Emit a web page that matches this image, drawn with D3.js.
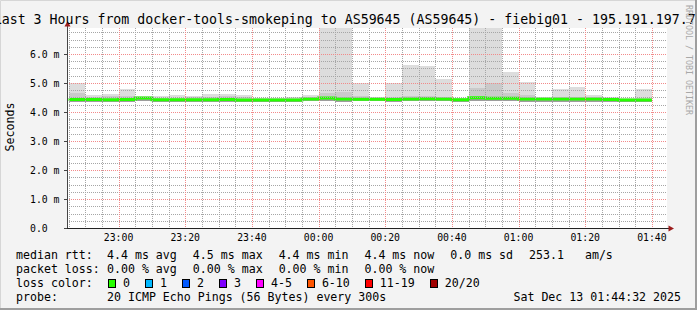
<!DOCTYPE html>
<html>
<head>
<meta charset="utf-8">
<script src="https://cdn.jsdelivr.net/npm/d3@7"></script>
<style>
body { margin: 0; background: #f3f3f3; }
svg { display: block; font-family: "DejaVu Sans Mono", monospace; }
text { white-space: pre; }
</style>
</head>
<body>
<svg id="chart"></svg>
<script>
// 5分ごとのステップ (ms)
var stepStart = new Date(2025, 11, 12, 22, 45, 0);
var rttMedian = [4.43, 4.43, 4.42, 4.43, 4.48, 4.42, 4.42, 4.42, 4.42, 4.43, 4.41, 4.41,
                 4.41, 4.41, 4.45, 4.48, 4.45, 4.44, 4.44, 4.43, 4.45, 4.46, 4.45, 4.42,
                 4.49, 4.47, 4.47, 4.45, 4.45, 4.45, 4.45, 4.45, 4.43, 4.41, 4.41];
var rttMax = [4.99, 4.60, 4.61, 4.79, 4.55, 4.55, 4.58, 4.56, 4.61, 4.62, 4.58, 4.50,
              4.50, 4.52, 4.58, 7.50, 7.50, 5.01, 4.53, 4.99, 5.62, 5.59, 5.14, 4.50,
              7.50, 7.50, 5.39, 5.03, 4.50, 4.79, 4.86, 4.58, 4.53, 4.48, 4.78];
var rttHi = [4.64, 4.52, 4.55, 4.56, 4.52, 4.50, 4.50, 4.52, 4.52, 4.55, 4.52, 4.47,
             4.47, 4.47, 4.52, 4.67, 4.70, 4.55, 4.48, 4.52, 4.55, 4.55, 4.52, 4.47,
             4.82, 5.01, 4.64, 4.58, 4.47, 4.50, 4.50, 4.50, 4.50, 4.45, 4.50];
var rttLo = [4.35, 4.35, 4.35, 4.36, 4.38, 4.36, 4.36, 4.36, 4.36, 4.36, 4.35, 4.35,
             4.35, 4.35, 4.37, 4.38, 4.36, 4.37, 4.37, 4.36, 4.37, 4.38, 4.37, 4.35,
             4.39, 4.37, 4.37, 4.36, 4.36, 4.36, 4.36, 4.36, 4.35, 4.34, 4.34];
var yTicks = [0, 1, 2, 3, 4, 5, 6];
var lossLabels = ["0", "1", "2", "3", "4-5", "6-10", "11-19", "20/20"];
var lossColors = ["#26ff00", "#00b8ff", "#0059ff", "#7e00ff", "#ff00ff", "#ff5500", "#ff0000", "#a10000"];
var rttLegend = ["4.4 ms avg", "4.5 ms max", "4.4 ms min", "4.4 ms now", "0.0 ms sd", "253.1   am/s"];
var lossLegend = ["0.00 % avg", "0.00 % max", "0.00 % min", "0.00 % now"];
var probeText = "20 ICMP Echo Pings (56 Bytes) every 300s";
var stampText = "Sat Dec 13 01:44:32 2025";
var titleText = "Last 3 Hours from docker-tools-smokeping to AS59645 (AS59645) - fiebig01 - 195.191.197.7";

var drawSmokeChart = function(){
    // 基本設定
    var width = 697;
    var height = 310;
    var left = 67, right = 667, top = 28, bottom = 228;
    var svg = d3.select("#chart")
        .attr("width", width)
        .attr("height", height);

    var tStart = new Date(2025, 11, 12, 22, 44, 32);
    var tEnd = new Date(2025, 11, 13, 1, 44, 32);
    var x = d3.scaleTime().domain([tStart, tEnd]).range([left, right]);
    var y = d3.scaleLinear().domain([0, 200 / 29]).range([bottom, top]);

    var steps = rttMedian.map(function(m, i){
        var t0 = d3.timeMinute.offset(stepStart, i * 5);
        return { t0: t0, t1: d3.timeMinute.offset(t0, 5), med: m, max: rttMax[i], hi: rttHi[i], lo: rttLo[i] };
    });

    // 背景と枠
    svg.append("rect").attr("width", width).attr("height", height).attr("fill", "#f3f3f3");
    svg.append("path").attr("d", "M0.5," + height + "V0.5H" + width)
        .attr("fill", "none").attr("stroke", "#d6d6d6");
    svg.append("path").attr("d", "M" + (width - 1) + ",0V" + (height - 1) + "H0")
        .attr("fill", "none").attr("stroke", "#9e9e9e").attr("stroke-width", 2);
    svg.append("rect").attr("x", left).attr("y", top)
        .attr("width", right - left).attr("height", bottom - top).attr("fill", "#ffffff");

    svg.append("clipPath").attr("id", "plotclip")
        .append("rect").attr("x", left).attr("y", top)
        .attr("width", right - left).attr("height", bottom - top);
    var plot = svg.append("g").attr("clip-path", "url(#plotclip)");

    // 煙 (smoke)
    var bands = [
        { hi: function(d){ return d.max; }, color: "#dddddd" },
        { hi: function(d){ return d.hi; }, color: "#cacaca" },
        { hi: function(d){ return d.med; }, color: "#9d9d9d" }
    ];
    bands.forEach(function(b){
        plot.selectAll(null)
            .data(steps)
            .enter()
            .append("rect")
            .attr("x", function(d){ return x(d.t0); })
            .attr("width", function(d){ return x(d.t1) - x(d.t0); })
            .attr("y", function(d){ return y(b.hi(d)); })
            .attr("height", function(d){ return y(d.lo) - y(b.hi(d)); })
            .attr("fill", b.color)
            .attr("shape-rendering", "crispEdges");
    });

    // グリッド
    var grid = svg.append("g").attr("shape-rendering", "crispEdges");
    var minorY = d3.range(0.25, 6.9, 0.25).filter(function(v){ return Math.abs(v - Math.round(v)) > 0.01; });
    grid.selectAll(".ymin").data(minorY).enter().append("line")
        .attr("x1", left).attr("x2", right)
        .attr("y1", function(d){ return Math.round(y(d)) + 0.5; })
        .attr("y2", function(d){ return Math.round(y(d)) + 0.5; })
        .attr("stroke", "#a6a6a6").attr("stroke-dasharray", "1,1");
    var minorX = d3.timeMinute.every(5).range(tStart, tEnd)
        .filter(function(t){ return t.getMinutes() % 20 !== 0; });
    grid.selectAll(".xmin").data(minorX).enter().append("line")
        .attr("x1", function(d){ return Math.round(x(d)) + 0.5; })
        .attr("x2", function(d){ return Math.round(x(d)) + 0.5; })
        .attr("y1", top).attr("y2", bottom)
        .attr("stroke", "#a6a6a6").attr("stroke-dasharray", "1,1");
    grid.selectAll(".ymaj").data(yTicks.slice(1)).enter().append("line")
        .attr("x1", left).attr("x2", right)
        .attr("y1", function(d){ return Math.round(y(d)) + 0.5; })
        .attr("y2", function(d){ return Math.round(y(d)) + 0.5; })
        .attr("stroke", "#f28a8a").attr("stroke-dasharray", "1,1");
    var majorX = d3.timeMinute.every(20).range(tStart, tEnd);
    grid.selectAll(".xmaj").data(majorX).enter().append("line")
        .attr("x1", function(d){ return Math.round(x(d)) + 0.5; })
        .attr("x2", function(d){ return Math.round(x(d)) + 0.5; })
        .attr("y1", top).attr("y2", bottom)
        .attr("stroke", "#f28a8a").attr("stroke-dasharray", "1,1");

    // 中央値ライン
    var pts = steps.map(function(d){ return [d.t0, d.med]; });
    pts.push([steps[steps.length - 1].t1, steps[steps.length - 1].med]);
    var line = d3.line()
        .x(function(d){ return x(d[0]); })
        .y(function(d){ return y(d[1]); })
        .curve(d3.curveStepAfter);
    plot.append("path")
        .attr("d", line(pts))
        .attr("fill", "none")
        .attr("stroke", lossColors[0])
        .attr("stroke-width", 3);

    // 軸
    var axisG = svg.append("g").attr("shape-rendering", "crispEdges");
    axisG.append("line").attr("x1", left + 0.5).attr("x2", left + 0.5)
        .attr("y1", bottom).attr("y2", top - 4).attr("stroke", "#444");
    axisG.append("line").attr("x1", left - 3).attr("x2", right + 4)
        .attr("y1", bottom + 0.5).attr("y2", bottom + 0.5).attr("stroke", "#222");
    axisG.selectAll(".ytick").data(yTicks).enter().append("line")
        .attr("x1", left - 3).attr("x2", left)
        .attr("y1", function(d){ return Math.round(y(d)) + 0.5; })
        .attr("y2", function(d){ return Math.round(y(d)) + 0.5; })
        .attr("stroke", "#444");
    svg.append("path").attr("d", "M67.5,21L64.5,26.5L70.5,26.5Z").attr("fill", "#9b1c1c");
    svg.append("path").attr("d", "M674,228.5L668.5,225.5L668.5,231.5Z").attr("fill", "#9b1c1c");

    svg.selectAll(".ylab").data(yTicks).enter().append("text")
        .attr("x", 30)
        .attr("y", function(d){ return y(d) + 3.5; })
        .attr("font-size", "9.8px")
        .attr("fill", "#000")
        .text(function(d){ return d === 0 ? "0.0" : d3.format(".1f")(d) + " m"; });
    svg.selectAll(".xlab").data(majorX).enter().append("text")
        .attr("x", function(d){ return x(d); })
        .attr("y", 241)
        .attr("text-anchor", "middle")
        .attr("font-size", "9.8px")
        .attr("fill", "#000")
        .text(d3.timeFormat("%H:%M"));

    svg.append("text")
        .attr("transform", "translate(14,127) rotate(-90)")
        .attr("text-anchor", "middle")
        .attr("font-size", "11.6px")
        .text("Seconds");

    // タイトル
    svg.append("text")
        .attr("x", -6.3).attr("y", 24)
        .attr("font-size", "13.25px")
        .text(titleText);

    // ウォーターマーク
    svg.append("text")
        .attr("transform", "translate(686,5) rotate(90)")
        .attr("font-size", "8.3px")
        .attr("fill", "#a8a8a8")
        .text("RRDTOOL / TOBI OETIKER");

    // 凡例
    var legend = svg.append("g").attr("font-size", "11.6px").attr("fill", "#000");
    var rowY = [258.5, 272.5, 286.5, 300.5];
    function legendRow(label, items, yy){
        legend.append("text").attr("x", 16).attr("y", yy).text(label);
        var cx = 107;
        items.forEach(function(s){
            var t = legend.append("text").attr("x", cx).attr("y", yy).text(s);
            cx += t.node().getComputedTextLength() + 16;
        });
    }
    legendRow("median rtt:", rttLegend, rowY[0]);
    legendRow("packet loss:", lossLegend, rowY[1]);

    legend.append("text").attr("x", 16).attr("y", rowY[2]).text("loss color:");
    var bx = 108;
    lossLabels.forEach(function(l, i){
        legend.append("rect")
            .attr("x", bx + 0.5).attr("y", rowY[2] - 7.5)
            .attr("width", 7).attr("height", 8)
            .attr("fill", lossColors[i])
            .attr("stroke", "#000")
            .attr("shape-rendering", "crispEdges");
        var t = legend.append("text").attr("x", bx + 15).attr("y", rowY[2]).text(l);
        bx = bx + 15 + t.node().getComputedTextLength() + 15;
    });

    legend.append("text").attr("x", 16).attr("y", rowY[3]).text("probe:");
    legend.append("text").attr("x", 107).attr("y", rowY[3]).text(probeText);
    legend.append("text").attr("x", 681).attr("y", rowY[3])
        .attr("text-anchor", "end").text(stampText);
}

var main = function(){
    drawSmokeChart();
}();
</script>
</body>
</html>
